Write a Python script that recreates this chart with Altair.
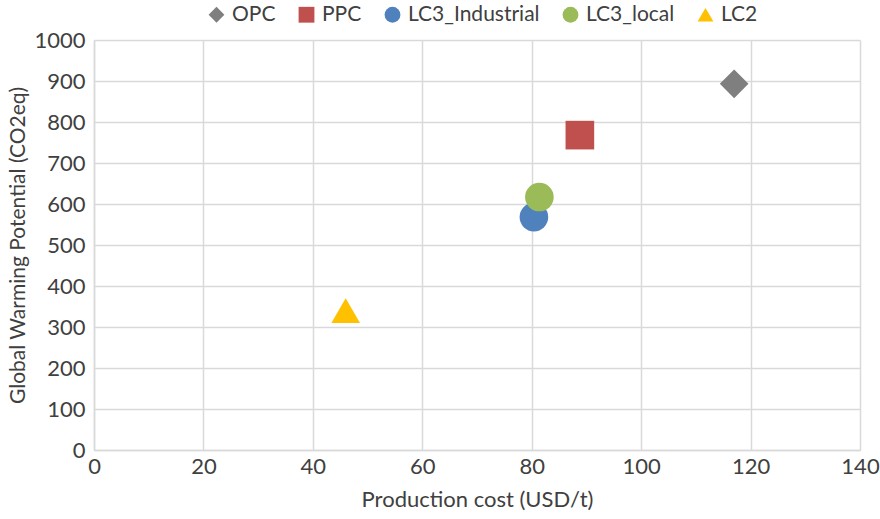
import altair as alt
import pandas as pd

materials = ["OPC", "PPC", "LC3_Industrial", "LC3_local", "LC2"]
cost = [117, 88.8, 80.4, 81.4, 46]
gwp = [893, 768, 568, 617, 340]
colors = ["#7f7f7f", "#c0504d", "#4f81bd", "#9bbb59", "#ffc000"]
shapes = ["diamond", "square", "circle", "circle", "triangle-up"]
x_ticks = [0, 20, 40, 60, 80, 100, 120, 140]
y_ticks = [0, 100, 200, 300, 400, 500, 600, 700, 800, 900, 1000]

df = pd.DataFrame({"Material": materials, "Cost": cost, "GWP": gwp})

FONT = "Lato"
FS = 22
TXT = "#404040"
GRID = "#d9d9d9"

leg = dict(title=None, orient="none", direction="horizontal",
           legendX=112, legendY=-36, symbolSize=250,
           columnPadding=20, labelOffset=5)

chart = alt.Chart(df).mark_point(filled=True, opacity=1, size=820).encode(
    x=alt.X("Cost:Q", title="Production cost (USD/t)",
            scale=alt.Scale(domain=[0, 140], nice=False),
            axis=alt.Axis(values=x_ticks, grid=True, ticks=False, labelPadding=6,
                          labelFlush=False, titlePadding=12)),
    y=alt.Y("GWP:Q", title="Global Warming Potential (CO2eq)",
            scale=alt.Scale(domain=[0, 1000], nice=False),
            axis=alt.Axis(values=y_ticks, grid=True, ticks=False, labelPadding=9,
                          labelFlush=False, format="d", titlePadding=5,
                          titleFontSize=21)),
    color=alt.Color("Material:N", scale=alt.Scale(domain=materials, range=colors),
                    legend=alt.Legend(**leg)),
    shape=alt.Shape("Material:N", scale=alt.Scale(domain=materials, range=shapes),
                    legend=alt.Legend(**leg)),
    order=alt.Order("Cost:Q"),
).properties(
    width=766, height=410,
    autosize=alt.AutoSizeParams(type="none"),
    padding={"left": 94, "top": 40, "right": 20, "bottom": 69},
).configure_view(
    stroke=None
).configure_axis(
    labelFont=FONT, labelFontSize=FS, labelColor=TXT,
    titleFont=FONT, titleFontSize=FS, titleColor=TXT, titleFontWeight="normal",
    gridColor=GRID, gridWidth=1.5, domainColor=GRID, domainWidth=1.5,
).configure_legend(
    labelFont=FONT, labelFontSize=21, labelColor=TXT, symbolStrokeWidth=0,
)

chart.save("out.html", embed_options={"renderer": "svg", "actions": False})
